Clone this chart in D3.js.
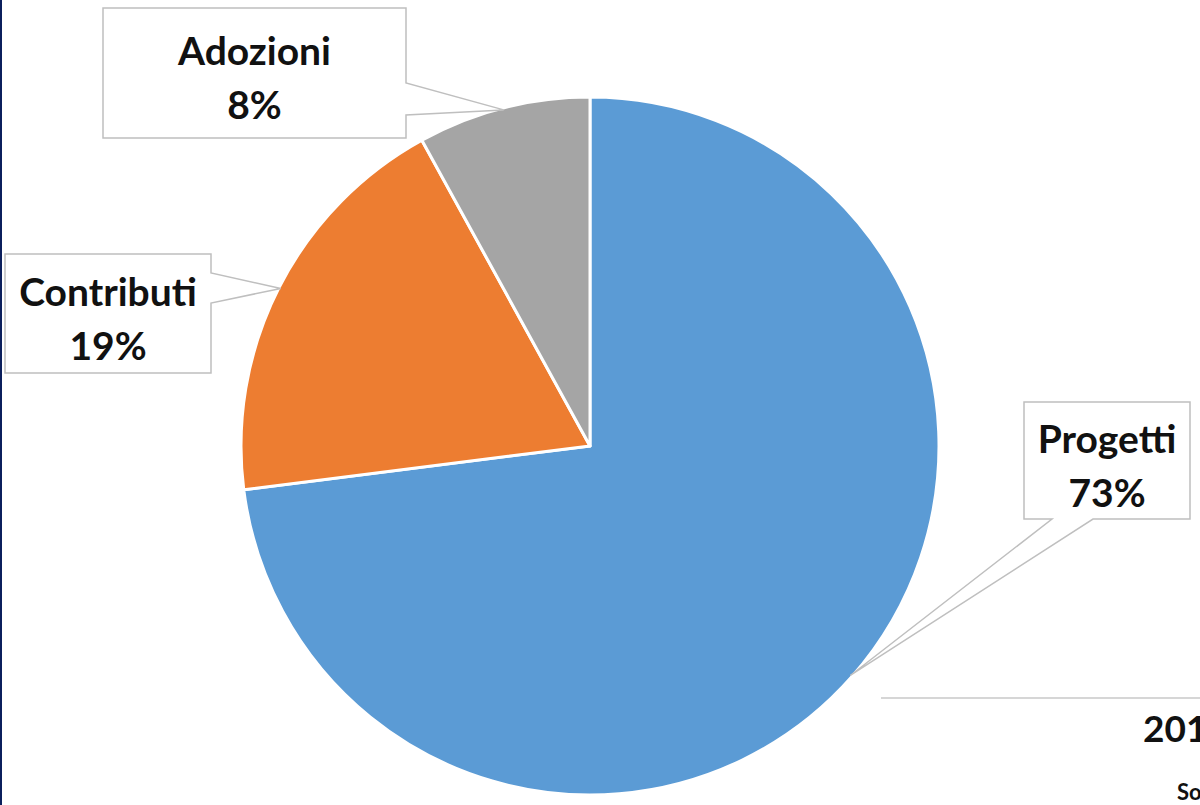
<!DOCTYPE html>
<html>
<head>
<meta charset="utf-8">
<script src="https://cdn.jsdelivr.net/npm/d3@7"></script>
<style>
html,body{margin:0;padding:0;background:#fff;overflow:hidden;}
svg{display:block;}
</style>
</head>
<body>
<svg id="chart" width="1200" height="805"></svg>
<script>
const categories = ["Progetti", "Contributi", "Adozioni"];
const values = [73, 19, 8];
const percentLabels = ["73%", "19%", "8%"];
const colors = ["#5B9BD5", "#ED7D31", "#A5A5A5"];

const W = 1200, H = 805;
const cx = 590, cy = 446, R = 349;

const svg = d3.select("#chart");
svg.append("rect").attr("width", W).attr("height", H).attr("fill", "#fff");
// left frame edge
svg.append("rect").attr("x", 0).attr("y", 0).attr("width", 2).attr("height", H).attr("fill", "#0B1F5C");

// bottom-right remnant of neighbouring panel
svg.append("line").attr("x1", 881).attr("x2", 1200).attr("y1", 698).attr("y2", 698)
  .attr("stroke", "#D6D6D6").attr("stroke-width", 2);
svg.append("text").attr("x", 1143).attr("y", 742).text("201")
  .attr("font-family", "Lato").attr("font-weight", 700).attr("font-size", 37).attr("fill", "#111");
svg.append("text").attr("x", 1177).attr("y", 800).text("So")
  .attr("font-family", "Lato").attr("font-weight", 700).attr("font-size", 22).attr("fill", "#111");

const pie = d3.pie().sort(null).value(d => d)(values);
const arc = d3.arc().innerRadius(0).outerRadius(R);
const edge = d3.arc().innerRadius(R - 2).outerRadius(R - 2);

const g = svg.append("g").attr("transform", `translate(${cx},${cy})`);
g.selectAll("path.slice").data(pie).enter().append("path")
  .attr("class", "slice")
  .attr("d", arc)
  .attr("fill", (d, i) => colors[i])
  .attr("stroke", "#fff").attr("stroke-width", 3).attr("stroke-linejoin", "round");

// callout label layout (box rectangle + where the pointer leaves the box)
const boxes = [
  {x0: 1024, y0: 402, x1: 1190, y1: 519, side: "bottom", a: 1052, b: 1093},
  {x0: 5, y0: 254, x1: 211, y1: 373, side: "right", a: 273, b: 303},
  {x0: 103, y0: 8, x1: 406, y1: 138, side: "right", a: 83, b: 115}
];

pie.forEach((d, i) => {
  const bx = boxes[i];
  const c = edge.centroid(d);
  const px = cx + c[0], py = cy + c[1];
  let p;
  if (bx.side === "right") {
    p = `M${bx.x0},${bx.y0}H${bx.x1}V${bx.a}L${px},${py}L${bx.x1},${bx.b}V${bx.y1}H${bx.x0}Z`;
  } else {
    p = `M${bx.x0},${bx.y0}H${bx.x1}V${bx.y1}H${bx.b}L${px},${py}L${bx.a},${bx.y1}H${bx.x0}Z`;
  }
  svg.append("path").attr("d", p).attr("fill", "#fff")
    .attr("stroke", "#BFBFBF").attr("stroke-width", 1.5);
  const mx = (bx.x0 + bx.x1) / 2, my = (bx.y0 + bx.y1) / 2;
  const t = svg.append("text").attr("text-anchor", "middle")
    .attr("font-family", "Lato").attr("font-weight", 700).attr("font-size", 39).attr("fill", "#111");
  t.append("tspan").attr("x", mx).attr("y", my - 8).text(categories[i]);
  t.append("tspan").attr("x", mx).attr("y", my + 46).text(percentLabels[i]);
});
</script>
</body>
</html>
